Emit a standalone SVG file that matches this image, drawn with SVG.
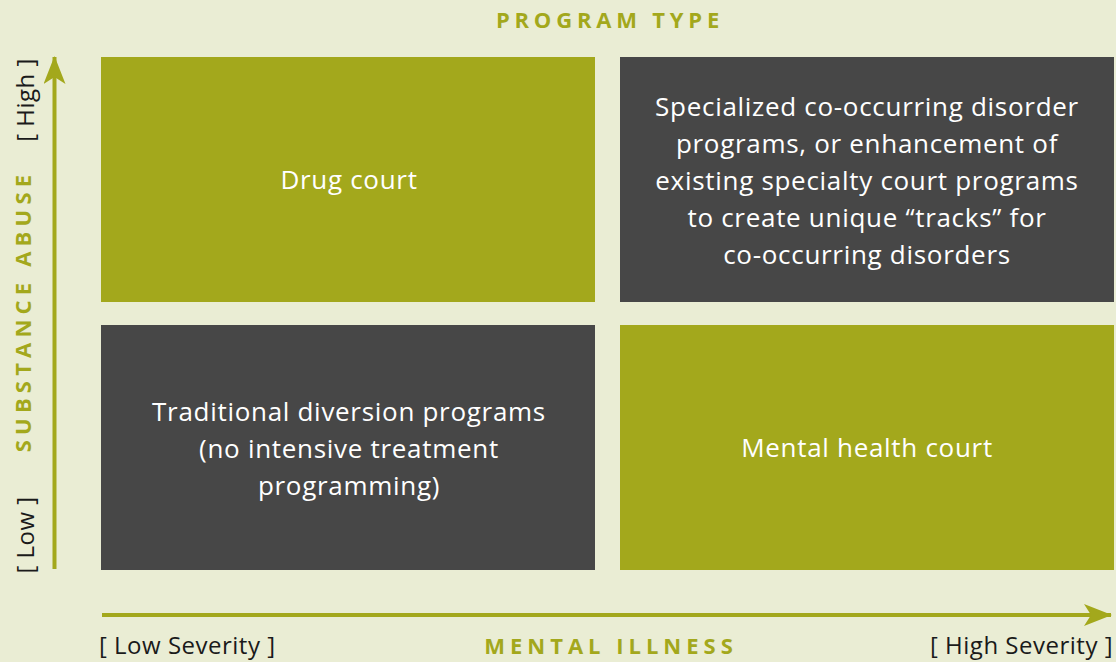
<svg xmlns="http://www.w3.org/2000/svg" width="1116" height="662" viewBox="0 0 1116 662">
<style>
.bg{fill:#eaedd4}
.g{fill:#a3a81c}
.d{fill:#474747}
.t{font-family:"Open Sans","Liberation Sans",sans-serif;font-size:26px;fill:#ffffff;text-anchor:middle;letter-spacing:0.7px}
.h{font-family:"Open Sans","Liberation Sans",sans-serif;font-size:22px;font-weight:700;fill:#a3a81c;text-anchor:middle;letter-spacing:4.8px}
.l{font-family:"Open Sans","Liberation Sans",sans-serif;font-size:24px;fill:#1a1a1a;letter-spacing:0.5px}
</style>
<defs>
<marker id="ah" viewBox="0 0 28 22" refX="27" refY="11" markerWidth="28" markerHeight="22" markerUnits="userSpaceOnUse" orient="auto">
<path d="M0,0 L28,11 L0,22 L7,11 Z" fill="#a3a81c"/>
</marker>
</defs>
<rect class="bg" x="0" y="0" width="1116" height="662"/>
<text class="h" x="610" y="28">PROGRAM TYPE</text>
<g id="connectors">
<line x1="54.5" y1="569" x2="54.5" y2="57" stroke="#a3a81c" stroke-width="4" marker-end="url(#ah)"/>
<line x1="102" y1="615" x2="1111" y2="615" stroke="#a3a81c" stroke-width="4" marker-end="url(#ah)"/>
</g>
<g id="node-drug-court">
<rect class="g" x="101" y="57" width="494" height="245"/>
<text class="t" x="349" y="189">Drug court</text>
</g>
<g id="node-specialized">
<rect class="d" x="620" y="57" width="494" height="245"/>
<text class="t" x="867" y="116">Specialized co-occurring disorder</text>
<text class="t" x="867" y="153">programs, or enhancement of</text>
<text class="t" x="867" y="190">existing specialty court programs</text>
<text class="t" x="867" y="227">to create unique “tracks” for</text>
<text class="t" x="867" y="264">co-occurring disorders</text>
</g>
<g id="node-traditional">
<rect class="d" x="101" y="325" width="494" height="245"/>
<text class="t" x="349" y="421">Traditional diversion programs</text>
<text class="t" x="349" y="458">(no intensive treatment</text>
<text class="t" x="349" y="495">programming)</text>
</g>
<g id="node-mental-health">
<rect class="g" x="620" y="325" width="494" height="245"/>
<text class="t" x="867" y="457">Mental health court</text>
</g>
<g id="axis-labels">
<text class="h" style="letter-spacing:5.2px" transform="translate(31,311) rotate(-90)">SUBSTANCE ABUSE</text>
<text class="l" text-anchor="middle" transform="translate(34,100) rotate(-90)">[ High ]</text>
<text class="l" text-anchor="middle" transform="translate(34,535) rotate(-90)">[ Low ]</text>
<text class="l" x="99" y="654">[ Low Severity ]</text>
<text class="l" x="1113" y="654" text-anchor="end">[ High Severity ]</text>
<text class="h" style="letter-spacing:5px" x="611" y="654">MENTAL ILLNESS</text>
</g>
</svg>
